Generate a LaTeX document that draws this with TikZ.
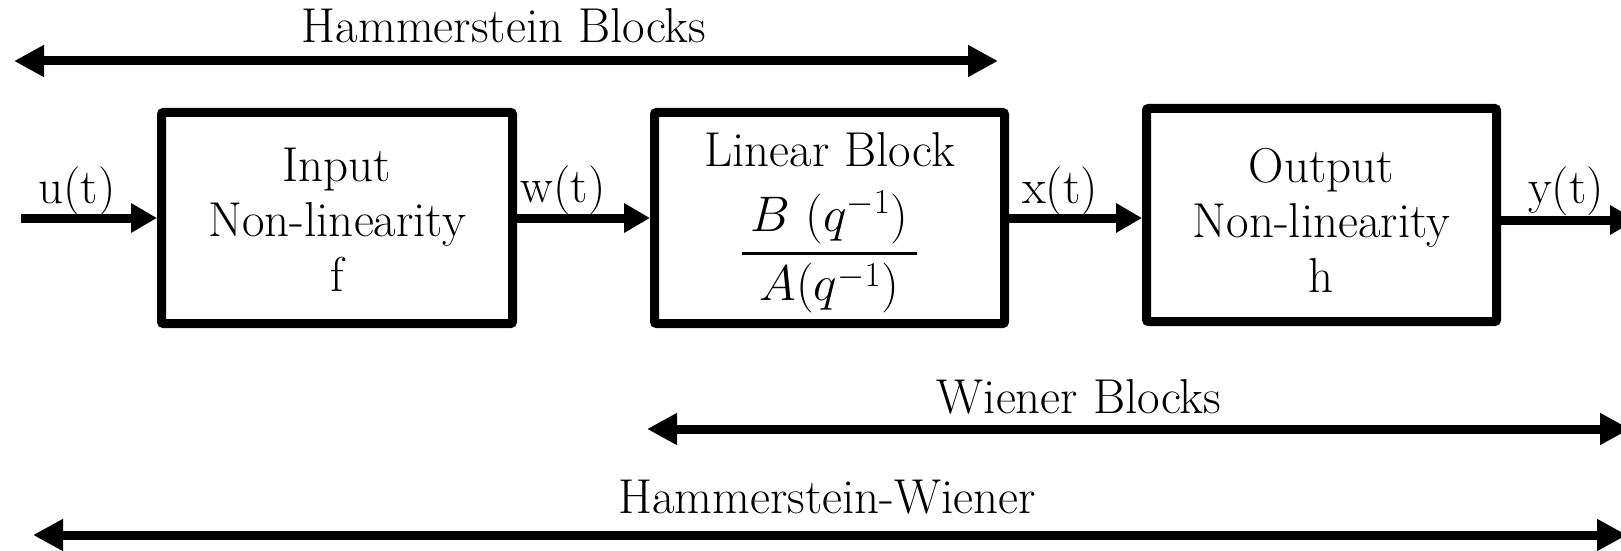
\RequirePackage{fix-cm}
\documentclass[tikz,border=0pt]{standalone}
\usepackage{amsmath}
\usepackage{fontspec}
\usetikzlibrary{arrows.meta}
\begin{document}
\begin{tikzpicture}[x=0.5pt,y=-0.5pt,
  blk/.style={draw,line width=4.5pt,rounded corners=1pt,inner sep=0pt},
  txt/.style={font=\fontsize{24.5}{27.5}\selectfont,align=center,inner sep=0pt},
  mth/.style={font=\fontsize{25}{30}\selectfont,inner sep=0pt},
  sig/.style={line width=4.5pt,-{Triangle[length=13pt,width=14pt]}},
  span/.style={line width=4.5pt,{Triangle[length=15pt,width=15pt]}-{Triangle[length=15pt,width=15pt]}},
]
\useasboundingbox (0,0) rectangle (1621,551);
\clip (0,0) rectangle (1621,551);

% blocks
\node[blk,minimum width=175.5pt,minimum height=105.5pt] (f) at (337,218) {};
\node[blk,minimum width=175pt,minimum height=105.5pt] (lin) at (829.5,218) {};
\node[blk,minimum width=175pt,minimum height=106.5pt] (h) at (1321.5,215) {};

% block texts
\node[txt] (ftxt) at (337,220) {Input\\Non-linearity\\f};
\node[txt] (ltxt) at (829.5,150) {Linear Block};
\node[mth,anchor=base] (frac) at (829.5,266) {$\genfrac{}{}{1.4pt}{0}{\,B\ (q^{-1})\,}{A(q^{-1})}$};
\node[txt] (htxt) at (1321.5,220) {Output\\Non-linearity\\h};

% signals
\coordinate (uin) at (21,218);
\coordinate (yout) at (1636,220);
\draw[sig] (uin) -- (f.west);
\draw[sig] (f.east) -- (lin.west);
\draw[sig] (lin.east) -- (lin.east -| h.west);
\draw[sig] (h.east |- yout) -- (yout);

\node[txt] (ul) at (77,191) {u(t)};
\node[txt] (wl) at (563,190) {w(t)};
\node[txt] (xl) at (1060,191) {x(t)};
\node[txt] (yl) at (1566,191) {y(t)};

% spans
\coordinate (hbL) at (14,61);
\coordinate (hbR) at (998,61);
\draw[span] (hbL) -- (hbR);
\node[txt] (hbt) at (504,26) {Hammerstein Blocks};

\coordinate (wbL) at (647,429);
\coordinate (wbR) at (1630,429);
\draw[span] (wbL) -- (wbR);
\node[txt] (wbt) at (1079,397) {Wiener Blocks};

\coordinate (hwL) at (33,535);
\coordinate (hwR) at (1627,535);
\draw[span] (hwL) -- (hwR);
\node[txt] (hwt) at (827,497) {Hammerstein-Wiener};
\end{tikzpicture}
\end{document}
